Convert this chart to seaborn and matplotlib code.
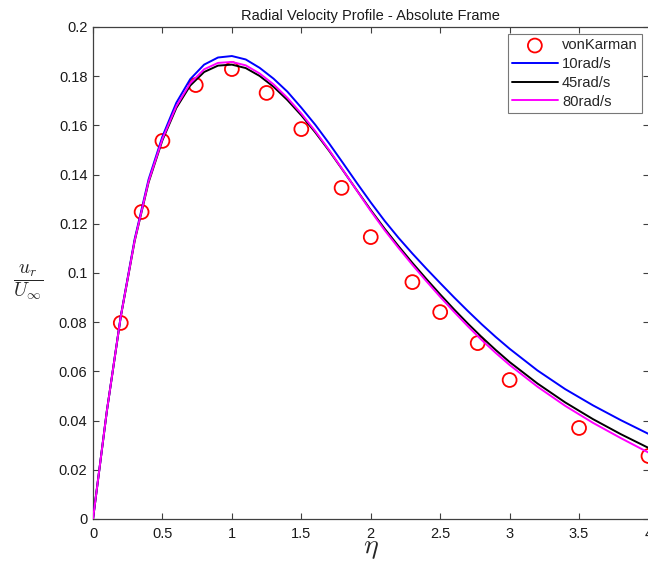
import matplotlib
matplotlib.use("Agg")
import matplotlib.pyplot as plt
import seaborn as sns
import pandas as pd

# ---------------- data ----------------
eta_vk = [0.2, 0.35, 0.5, 0.74, 1.0, 1.25, 1.5, 1.79, 2.0, 2.3, 2.5, 2.77, 3.0, 3.5, 4.0]
u_vk = [0.0797, 0.1248, 0.1537, 0.1764, 0.1829, 0.1732, 0.1585, 0.1346, 0.1146,
        0.0963, 0.0841, 0.0715, 0.0565, 0.0370, 0.0256]

eta_sim = [0, 0.1, 0.2, 0.3, 0.4, 0.5, 0.6, 0.7, 0.8, 0.9, 1.0, 1.1, 1.2, 1.3, 1.4,
           1.5, 1.6, 1.7, 1.8, 1.9, 2.0, 2.1, 2.2, 2.3, 2.4, 2.5, 2.6, 2.7, 2.8, 2.9,
           3.0, 3.2, 3.4, 3.6, 3.8, 4.0]
u_10 = [0, 0.0440, 0.0825, 0.1138, 0.1380, 0.1555, 0.1692, 0.1788, 0.1847, 0.1876,
        0.1882, 0.1868, 0.1834, 0.1790, 0.1737, 0.1672, 0.1603, 0.1527, 0.1447,
        0.1366, 0.1287, 0.1212, 0.1143, 0.1079, 0.1018, 0.0959, 0.0901, 0.0845,
        0.0791, 0.0740, 0.0692, 0.0604, 0.0528, 0.0462, 0.0402, 0.0346]
u_45 = [0, 0.0440, 0.0822, 0.1130, 0.1368, 0.1540, 0.1671, 0.1762, 0.1817, 0.1843,
        0.1847, 0.1833, 0.1801, 0.1757, 0.1703, 0.1641, 0.1572, 0.1497, 0.1417,
        0.1336, 0.1256, 0.1180, 0.1109, 0.1041, 0.0976, 0.0913, 0.0852, 0.0794,
        0.0739, 0.0687, 0.0638, 0.0551, 0.0474, 0.0406, 0.0345, 0.0289]
u_80 = [0, 0.0440, 0.0823, 0.1132, 0.1372, 0.1545, 0.1678, 0.1771, 0.1828, 0.1854,
        0.1858, 0.1844, 0.1811, 0.1767, 0.1712, 0.1648, 0.1577, 0.1500, 0.1418,
        0.1335, 0.1252, 0.1174, 0.1102, 0.1033, 0.0967, 0.0903, 0.0842, 0.0783,
        0.0727, 0.0675, 0.0626, 0.0538, 0.0460, 0.0391, 0.0329, 0.0270]

series_names = ["10rad/s", "45rad/s", "80rad/s"]
series_colors = ["#0000ff", "#000000", "#ff00ff"]

x_ticks = [0, 0.5, 1, 1.5, 2, 2.5, 3, 3.5, 4]
x_ticklabels = ["0", "0.5", "1", "1.5", "2", "2.5", "3", "3.5", "4"]
y_ticks = [0, 0.02, 0.04, 0.06, 0.08, 0.1, 0.12, 0.14, 0.16, 0.18, 0.2]
y_ticklabels = ["0", "0.02", "0.04", "0.06", "0.08", "0.1", "0.12", "0.14", "0.16", "0.18", "0.2"]

title = "Radial Velocity Profile - Absolute Frame"

# ---------------- style ----------------
sns.set_style("ticks")
plt.rcParams["font.family"] = ["Liberation Sans", "DejaVu Sans"]
plt.rcParams["mathtext.fontset"] = "cm"

fig = plt.figure(figsize=(6.48, 5.62), dpi=100)
W, H = 648, 562
ax = fig.add_axes([93 / W, 1 - 519 / H, 555.5 / W, 492 / H])

sns.scatterplot(x=eta_vk, y=u_vk, marker="o", s=100, facecolors="none",
                edgecolors="#ff0000", linewidths=1.3, label="vonKarman", ax=ax, zorder=2)

for name, col, vals in zip(series_names, series_colors, [u_10, u_45, u_80]):
    df = pd.DataFrame({"eta": eta_sim, "u": vals})
    sns.lineplot(data=df, x="eta", y="u", color=col, linewidth=1.4, sort=False,
                 estimator=None, label=name, ax=ax, zorder=3)

ax.set_xlim(0, 4)
ax.set_ylim(0, 0.2)
ax.set_xticks(x_ticks)
ax.set_xticklabels(x_ticklabels)
ax.set_yticks(y_ticks)
ax.set_yticklabels(y_ticklabels)
ax.tick_params(direction="in", top=True, right=True, length=4, width=0.8,
               labelsize=10.5, colors="#404040", labelcolor="#1a1a1a")
ax.tick_params(axis="x", pad=6)
ax.tick_params(axis="y", pad=4)
for sp in ax.spines.values():
    sp.set_visible(True)
    sp.set_color("#404040")
    sp.set_linewidth(0.9)

ax.set_title(title, fontsize=10.5, pad=5, color="#1a1a1a")
ax.set_xlabel(r"$\eta$", fontsize=20, va="center")
ax.xaxis.set_label_coords(0.5, -0.058)
ax.set_ylabel(r"$\dfrac{u_r}{U_\infty}$", fontsize=14, rotation=0, va="center", ha="center")
ax.yaxis.set_label_coords(-0.117, 0.482)

leg = ax.legend(loc="upper right", bbox_to_anchor=(0.9888, 0.9858), borderaxespad=0,
                fontsize=10.6, frameon=True, fancybox=False, edgecolor="#555555",
                handlelength=3.1, handletextpad=0.3, labelspacing=0.32, borderpad=0.3,
                scatterpoints=1)
leg.get_frame().set_linewidth(0.8)

fig.savefig("out.png", dpi=100)
